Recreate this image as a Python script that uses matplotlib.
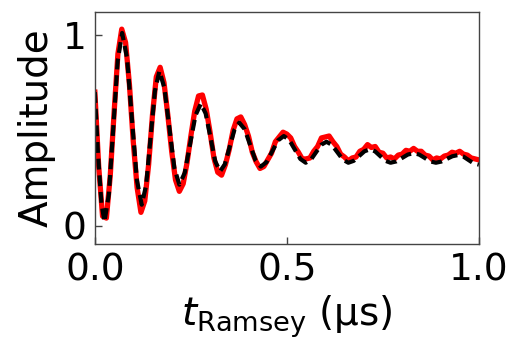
import matplotlib
matplotlib.use("Agg")
import matplotlib.pyplot as plt

plt.rcParams['font.family'] = ['DejaVu Sans']
plt.rcParams['mathtext.fontset'] = 'dejavusans'

t_data = [0.00, 0.01, 0.02, 0.03, 0.04, 0.05, 0.06, 0.07, 0.08, 0.09,
          0.10, 0.11, 0.12, 0.13, 0.14, 0.15, 0.16, 0.17, 0.18, 0.19,
          0.20, 0.21, 0.22, 0.23, 0.24, 0.25, 0.26, 0.27, 0.28, 0.29,
          0.30, 0.31, 0.32, 0.33, 0.34, 0.35, 0.36, 0.37, 0.38, 0.39,
          0.40, 0.41, 0.42, 0.43, 0.44, 0.45, 0.46, 0.47, 0.48, 0.49,
          0.50, 0.51, 0.52, 0.53, 0.54, 0.55, 0.56, 0.57, 0.58, 0.59,
          0.60, 0.61, 0.62, 0.63, 0.64, 0.65, 0.66, 0.67, 0.68, 0.69,
          0.70, 0.71, 0.72, 0.73, 0.74, 0.75, 0.76, 0.77, 0.78, 0.79,
          0.80, 0.81, 0.82, 0.83, 0.84, 0.85, 0.86, 0.87, 0.88, 0.89,
          0.90, 0.91, 0.92, 0.93, 0.94, 0.95, 0.96, 0.97, 0.98, 0.99,
          1.00]
amp_data = [0.70, 0.31, 0.05, 0.04, 0.26, 0.59, 0.90, 1.03, 0.96, 0.74,
            0.44, 0.20, 0.07, 0.13, 0.32, 0.58, 0.78, 0.83, 0.75, 0.58,
            0.39, 0.24, 0.18, 0.22, 0.33, 0.47, 0.60, 0.68, 0.685, 0.61,
            0.49, 0.355, 0.28, 0.265, 0.32, 0.40, 0.50, 0.56, 0.57, 0.53,
            0.47, 0.385, 0.335, 0.30, 0.31, 0.345, 0.38, 0.44, 0.465, 0.49,
            0.48, 0.46, 0.415, 0.385, 0.35, 0.35, 0.355, 0.39, 0.415, 0.46,
            0.465, 0.47, 0.44, 0.415, 0.375, 0.36, 0.34, 0.355, 0.36, 0.39,
            0.40, 0.425, 0.41, 0.415, 0.385, 0.38, 0.355, 0.36, 0.35, 0.37,
            0.375, 0.395, 0.39, 0.405, 0.39, 0.39, 0.37, 0.365, 0.345, 0.355,
            0.35, 0.365, 0.37, 0.385, 0.38, 0.39, 0.375, 0.37, 0.355, 0.35,
            0.345]

# Fit (schwarz gestrichelt)
t_fit = [0.000, 0.008, 0.017, 0.025, 0.0365, 0.048, 0.0595, 0.071, 0.0838, 0.0965,
         0.1093, 0.122, 0.1335, 0.145, 0.1565, 0.168, 0.181, 0.194, 0.207, 0.220,
         0.234, 0.248, 0.262, 0.276, 0.2885, 0.301, 0.3135, 0.326, 0.3385, 0.351,
         0.3635, 0.376, 0.390, 0.404, 0.418, 0.432, 0.447, 0.462, 0.477, 0.492,
         0.506, 0.5205, 0.535, 0.549, 0.5625, 0.576, 0.5895, 0.603, 0.617, 0.6315,
         0.646, 0.660, 0.674, 0.688, 0.702, 0.716, 0.7295, 0.743, 0.7565, 0.770,
         0.785, 0.800, 0.815, 0.830, 0.8445, 0.859, 0.8735, 0.888, 0.902, 0.9165,
         0.931, 0.945, 0.959, 0.9725, 0.986, 1.000]
amp_fit = [0.70, 0.38, 0.12, 0.02, 0.165, 0.515, 0.865, 1.01, 0.879, 0.56,
           0.241, 0.11, 0.212, 0.46, 0.708, 0.81, 0.723, 0.513, 0.302, 0.215,
           0.277, 0.428, 0.578, 0.64, 0.588, 0.463, 0.337, 0.285, 0.322, 0.413,
           0.503, 0.54, 0.506, 0.425, 0.344, 0.31, 0.333, 0.39, 0.447, 0.47,
           0.45, 0.40, 0.35, 0.33, 0.346, 0.385, 0.424, 0.44, 0.424, 0.385,
           0.346, 0.33, 0.34, 0.365, 0.39, 0.40, 0.39, 0.365, 0.34, 0.33,
           0.337, 0.355, 0.373, 0.38, 0.373, 0.355, 0.337, 0.33, 0.336, 0.35,
           0.364, 0.37, 0.363, 0.345, 0.327, 0.32]

x_ticks = [0.0, 0.5, 1.0]
x_ticklabels = ['0.0', '0.5', '1.0']
y_ticks = [0, 1]
y_ticklabels = ['0', '1']

fig = plt.figure(figsize=(5.1, 3.42), dpi=100)
ax = fig.add_axes([0.186, 0.287, 0.753, 0.678])

ax.plot(t_data, amp_data, color='#ff0000', lw=3.8, solid_joinstyle='round')
ax.plot(t_fit, amp_fit, color='black', lw=3.0, ls='--', dashes=(2.6, 1.4))

ax.set_xlim(0, 1)
ax.set_ylim(-0.095, 1.12)
ax.set_xticks(x_ticks)
ax.set_xticklabels(x_ticklabels)
ax.set_yticks(y_ticks)
ax.set_yticklabels(y_ticklabels)

ax.tick_params(direction='in', length=5, width=1, labelsize=27, pad=6,
               colors='#444444', labelcolor='black')
for sp in ax.spines.values():
    sp.set_color('#444444')
    sp.set_linewidth(1.0)

ax.set_ylabel('Amplitude', fontsize=28, labelpad=5)
ax.set_xlabel(r'$t_{\mathrm{Ramsey}}$ (µs)', fontsize=28, labelpad=4)

fig.savefig('out.png', dpi=100)
